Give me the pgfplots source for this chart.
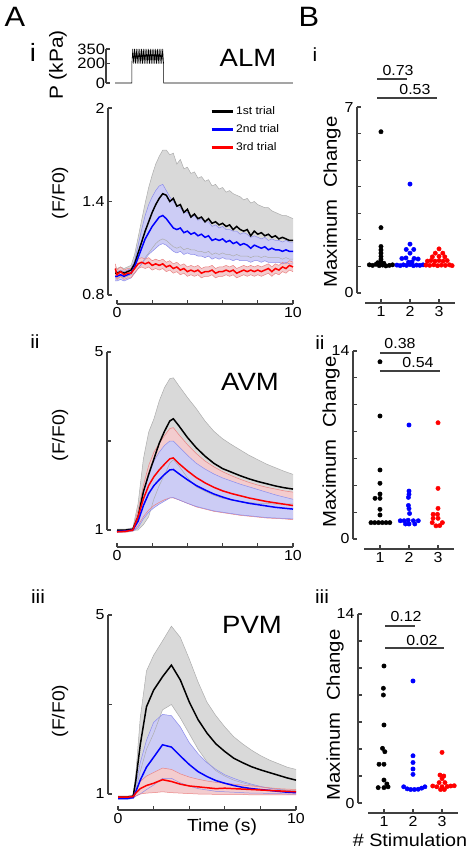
\documentclass[border=0pt]{standalone}
\usepackage{fontspec}
\setmainfont{Liberation Sans}[FakeStretch=1.1]
\usepackage{pgfplots}
\usepackage{pgfplotstable}
\pgfplotsset{compat=1.18}
\usepgfplotslibrary{fillbetween}
\definecolor{axg}{RGB}{64,64,64}
\definecolor{gfill}{RGB}{217,217,217}
\definecolor{ufill}{RGB}{204,204,245}
\definecolor{rfill}{RGB}{243,204,206}
\newcommand{\fs}[1]{\fontsize{#1pt}{#1pt}\selectfont}
\tikzset{sig/.style={axg, line width=1.6pt}}

\pgfplotstableread{
t bm bu bl um uu ul rm ru rl
-0.1 0.94 0.97 0.91 0.92 0.95 0.89 0.97 1.00 0.94
0.0 0.94 0.97 0.91 0.92 0.95 0.89 0.93 0.96 0.90
0.2 0.95 0.98 0.92 0.93 0.96 0.90 0.95 0.98 0.92
0.4 0.94 0.97 0.91 0.92 0.95 0.89 0.93 0.96 0.90
0.6 0.95 0.98 0.92 0.93 0.96 0.90 0.94 0.97 0.91
0.8 0.96 0.99 0.93 0.94 0.97 0.91 0.94 0.97 0.91
1.0 1.00 1.06 0.94 0.98 1.02 0.94 0.97 1.00 0.94
1.2 1.07 1.17 0.97 1.04 1.12 0.97 1.00 1.03 0.97
1.4 1.14 1.28 1.00 1.10 1.22 1.00 1.01 1.04 0.98
1.6 1.21 1.39 1.04 1.16 1.31 1.03 1.00 1.03 0.97
1.8 1.27 1.49 1.07 1.20 1.38 1.06 1.01 1.04 0.98
2.0 1.33 1.57 1.10 1.24 1.43 1.08 0.99 1.02 0.96
2.2 1.38 1.64 1.13 1.27 1.47 1.10 1.00 1.03 0.97
2.4 1.42 1.69 1.15 1.30 1.50 1.12 0.99 1.02 0.96
2.6 1.45 1.73 1.16 1.31 1.51 1.13 1.00 1.03 0.97
2.8 1.44 1.73 1.15 1.29 1.47 1.12 0.98 1.01 0.95
3.0 1.40 1.70 1.13 1.26 1.43 1.10 0.99 1.02 0.96
3.2 1.42 1.71 1.11 1.23 1.40 1.08 0.97 1.00 0.94
3.4 1.37 1.64 1.10 1.22 1.37 1.07 0.98 1.01 0.95
3.6 1.38 1.67 1.11 1.23 1.36 1.08 0.96 0.99 0.93
3.8 1.33 1.61 1.09 1.20 1.33 1.06 0.97 1.00 0.94
4.0 1.35 1.62 1.10 1.21 1.33 1.07 0.95 0.98 0.92
4.2 1.30 1.58 1.09 1.19 1.30 1.06 0.96 0.99 0.93
4.4 1.32 1.59 1.09 1.20 1.31 1.06 0.95 0.98 0.92
4.6 1.29 1.55 1.08 1.18 1.28 1.05 0.96 0.99 0.93
4.8 1.30 1.56 1.08 1.19 1.29 1.05 0.94 0.97 0.91
5.0 1.27 1.53 1.07 1.17 1.27 1.04 0.95 0.98 0.92
5.2 1.29 1.54 1.08 1.18 1.27 1.05 0.95 0.98 0.92
5.4 1.26 1.50 1.06 1.15 1.24 1.03 0.96 0.99 0.93
5.6 1.27 1.51 1.07 1.16 1.25 1.04 0.94 0.97 0.91
5.8 1.25 1.48 1.06 1.15 1.23 1.03 0.95 0.98 0.92
6.0 1.26 1.49 1.07 1.16 1.24 1.04 0.95 0.98 0.92
6.2 1.24 1.46 1.06 1.14 1.22 1.03 0.96 0.99 0.93
6.4 1.25 1.47 1.06 1.15 1.22 1.03 0.95 0.98 0.92
6.6 1.22 1.45 1.05 1.13 1.21 1.02 0.96 0.99 0.93
6.8 1.24 1.44 1.06 1.14 1.21 1.03 0.94 0.97 0.91
7.0 1.22 1.43 1.05 1.12 1.19 1.02 0.95 0.98 0.92
7.2 1.21 1.41 1.05 1.13 1.20 1.02 0.96 0.99 0.93
7.4 1.22 1.42 1.05 1.12 1.19 1.02 0.95 0.98 0.92
7.6 1.18 1.39 1.04 1.10 1.17 1.01 0.96 0.99 0.93
7.8 1.21 1.40 1.05 1.12 1.18 1.02 0.95 0.98 0.92
8.0 1.19 1.38 1.05 1.11 1.17 1.02 0.96 0.99 0.93
8.2 1.20 1.37 1.04 1.10 1.16 1.01 0.95 0.98 0.92
8.4 1.18 1.36 1.05 1.11 1.17 1.02 0.96 0.99 0.93
8.6 1.19 1.36 1.04 1.09 1.15 1.01 0.97 1.00 0.94
8.8 1.17 1.34 1.04 1.10 1.16 1.01 0.95 0.98 0.92
9.0 1.18 1.33 1.04 1.09 1.15 1.01 0.97 1.00 0.94
9.2 1.16 1.32 1.04 1.09 1.15 1.01 0.96 0.99 0.93
9.4 1.17 1.31 1.03 1.08 1.14 1.00 0.98 1.01 0.95
9.6 1.16 1.31 1.04 1.09 1.15 1.01 0.97 1.00 0.94
9.8 1.15 1.30 1.03 1.08 1.14 1.00 0.99 1.02 0.96
10.0 1.15 1.29 1.03 1.08 1.14 1.00 0.98 1.01 0.95
}\alm

\pgfplotstableread{
t bm bu bl rm ru rl um uu ul
0 1.00 1.02 0.98 0.96 0.98 0.94 0.97 0.99 0.95
0.5 1.00 1.02 0.98 0.97 0.99 0.95 0.98 1.00 0.96
0.9 1.02 1.05 0.99 1.00 1.02 0.97 1.00 1.02 0.98
1.2 1.30 1.60 1.00 1.30 1.45 1.10 1.20 1.35 1.05
1.5 1.86 2.60 1.12 1.70 2.00 1.30 1.55 1.85 1.25
1.8 2.25 3.20 1.30 2.00 2.45 1.45 1.82 2.25 1.40
2.1 2.60 3.50 1.70 2.20 2.75 1.55 2.00 2.55 1.50
2.4 2.95 3.90 2.00 2.35 2.95 1.62 2.13 2.75 1.58
2.7 3.22 4.20 2.24 2.48 3.12 1.68 2.25 2.90 1.65
3.0 3.45 4.40 2.50 2.60 3.28 1.72 2.35 3.00 1.72
3.2 3.50 4.42 2.58 2.62 3.30 1.72 2.36 3.00 1.73
3.5 3.35 4.25 2.45 2.50 3.15 1.68 2.27 2.88 1.68
4.0 3.08 3.98 2.18 2.33 2.92 1.60 2.13 2.68 1.60
4.5 2.85 3.73 1.97 2.18 2.72 1.52 2.00 2.50 1.53
5.0 2.66 3.45 1.87 2.06 2.55 1.47 1.90 2.37 1.48
5.5 2.50 3.22 1.78 1.96 2.42 1.42 1.81 2.26 1.43
6.0 2.38 3.05 1.71 1.88 2.31 1.39 1.74 2.17 1.40
6.5 2.30 2.92 1.68 1.82 2.22 1.36 1.68 2.10 1.37
7.0 2.22 2.80 1.64 1.77 2.14 1.33 1.64 2.03 1.34
7.5 2.15 2.68 1.62 1.72 2.07 1.31 1.60 1.97 1.32
8.0 2.09 2.58 1.60 1.68 2.01 1.29 1.57 1.91 1.30
8.5 2.04 2.48 1.60 1.64 1.96 1.27 1.54 1.85 1.28
9.0 1.99 2.40 1.58 1.61 1.92 1.26 1.51 1.79 1.27
9.5 1.95 2.32 1.58 1.58 1.88 1.25 1.49 1.74 1.26
10 1.92 2.25 1.59 1.55 1.85 1.23 1.47 1.69 1.25
}\avm

\pgfplotstableread{
t bm bu bl um uu ul rm ru rl
0 0.93 0.95 0.91 0.90 0.92 0.88 0.93 0.95 0.91
0.5 0.93 0.95 0.91 0.90 0.92 0.88 0.93 0.95 0.91
0.85 0.95 0.98 0.93 0.92 0.95 0.90 0.94 0.96 0.92
1.0 1.30 1.45 1.10 1.05 1.20 0.95 1.02 1.10 0.96
1.25 2.10 2.70 1.50 1.31 1.70 1.00 1.12 1.28 1.00
1.6 2.95 3.75 2.00 1.60 2.20 1.10 1.19 1.40 1.02
2.0 3.32 4.10 2.35 1.82 2.60 1.20 1.24 1.48 1.03
2.5 3.62 4.42 2.88 2.10 2.78 1.35 1.32 1.58 1.05
3.0 3.88 4.75 3.00 2.05 2.75 1.35 1.28 1.55 1.03
3.5 3.55 4.50 2.70 1.85 2.50 1.25 1.22 1.45 1.02
4.0 3.06 4.02 2.35 1.66 2.15 1.18 1.18 1.38 1.01
4.5 2.66 3.50 2.00 1.50 1.90 1.12 1.16 1.33 1.00
5.0 2.36 3.05 1.72 1.39 1.70 1.09 1.14 1.29 1.00
5.5 2.12 2.75 1.52 1.30 1.55 1.06 1.12 1.26 0.99
6.0 1.95 2.50 1.40 1.24 1.43 1.05 1.13 1.24 0.99
6.5 1.80 2.28 1.31 1.19 1.35 1.04 1.12 1.22 0.99
7.0 1.70 2.12 1.25 1.15 1.28 1.03 1.11 1.20 0.99
7.5 1.61 1.98 1.20 1.12 1.22 1.02 1.10 1.18 0.98
8.0 1.54 1.86 1.16 1.10 1.17 1.02 1.09 1.16 0.98
8.5 1.48 1.76 1.13 1.08 1.13 1.01 1.08 1.14 0.98
9.0 1.42 1.68 1.11 1.06 1.10 1.01 1.07 1.12 0.98
9.5 1.36 1.60 1.09 1.04 1.08 1.00 1.06 1.11 0.98
10 1.31 1.55 1.08 1.03 1.06 1.00 1.05 1.10 0.98
}\pvm

\pgfplotsset{
  myax/.style={
    scale only axis, clip=false, anchor=south west,
    axis x line*=bottom, axis y line*=left,
    axis line style={-, line width=1.6pt, axg},
    tick style={line width=1.2pt, axg},
    major tick length=4pt,
    tick align=inside,
    /pgf/number format/assume math mode=true,
    tick label style={font=\fs{14.5}, text=black},
  },
  tax/.style={myax, xmin=0, xmax=10, xtick={0,2,4,6,8,10}, xticklabels={0,,,,,10}},
  bax/.style={myax, xmin=0.45, xmax=3.55, xtick={1,2,3}, ymin=0, width=90pt},
  gedge/.style={draw=black!32, line width=0.5pt, forget plot},
  uedge/.style={draw={rgb,255:red,140;green,140;blue,235}, line width=0.5pt, forget plot},
  redge/.style={draw={rgb,255:red,235;green,130;blue,130}, line width=0.5pt, forget plot},
  mline/.style={line width=1.5pt},
  dots/.style={only marks, mark=*, mark size=2.2pt},
}

\begin{document}
\begin{tikzpicture}

% ---------- stimulus ----------
\begin{axis}[myax, at={(115.2pt,-83pt)}, width=177.6pt, height=34pt,
  xmin=-0.1, xmax=10, ymin=0, ymax=350, axis x line=none,
  axis y line shift=9pt, ytick={0,200,350}, tick label style={font=\fs{15}},
  yticklabel style={inner sep=1pt}]
\addplot[black, line width=0.6pt] coordinates {(-0.1,0) (0.85,0) (0.85,200)
 (0.9,350) (0.95,200) (1.0,350) (1.05,200) (1.1,350) (1.15,200) (1.2,350) (1.25,200)
 (1.3,350) (1.35,200) (1.4,350) (1.45,200) (1.5,350) (1.55,200) (1.6,350) (1.65,200)
 (1.7,350) (1.75,200) (1.8,350) (1.85,200) (1.9,350) (1.95,200) (2.0,350) (2.05,200)
 (2.1,350) (2.15,200) (2.2,350) (2.25,200) (2.3,350) (2.35,200) (2.4,350) (2.45,200)
 (2.5,350) (2.55,200) (2.6,350) (2.65,200) (2.65,0) (10,0)};
\end{axis}

% ---------- A i : ALM ----------
\begin{axis}[tax, at={(117pt,-295pt)}, width=176pt, height=187pt,
  ymin=0.8, ymax=2, ytick={0.8,1.4,2}, yticklabels={0.8,1.4,2},
  axis x line shift=9pt, axis y line shift=9pt,
  legend style={at={(rel axis cs:0.528,1.02)}, anchor=north west, draw=none, fill=none,
    font=\fs{11}, row sep=4.5pt, inner sep=0pt, cells={anchor=west}},
  legend image code/.code={\draw[#1, line width=3pt] (0pt,0pt) -- (21pt,0pt);}]
\addplot[gedge, name path=gu] table[x=t,y=bu]{\alm};
\addplot[gedge, name path=gl] table[x=t,y=bl]{\alm};
\addplot[fill=gfill, forget plot] fill between[of=gu and gl];
\addplot[uedge, name path=uu] table[x=t,y=uu]{\alm};
\addplot[uedge, name path=ul] table[x=t,y=ul]{\alm};
\addplot[fill=ufill, forget plot] fill between[of=uu and ul];
\addplot[redge, name path=ru] table[x=t,y=ru]{\alm};
\addplot[redge, name path=rl] table[x=t,y=rl]{\alm};
\addplot[fill=rfill, forget plot] fill between[of=ru and rl];
\addplot[mline, black] table[x=t,y=bm]{\alm};
\addlegendentry{1st trial}
\addplot[mline, blue] table[x=t,y=um]{\alm};
\addlegendentry{2nd trial}
\addplot[mline, red] table[x=t,y=rm]{\alm};
\addlegendentry{3rd trial}
\end{axis}

% ---------- A ii : AVM ----------
\begin{axis}[tax, at={(117pt,-530pt)}, width=176pt, height=178pt,
  ymin=1, ymax=5, ytick={1,3,5}, yticklabels={1,,5},
  axis x line shift=17pt, axis y line shift=10pt]
\addplot[gedge, name path=gu] table[x=t,y=bu]{\avm};
\addplot[gedge, name path=gl] table[x=t,y=bl]{\avm};
\addplot[fill=gfill, forget plot] fill between[of=gu and gl];
\addplot[redge, name path=ru] table[x=t,y=ru]{\avm};
\addplot[redge, name path=rl] table[x=t,y=rl]{\avm};
\addplot[fill=rfill, forget plot] fill between[of=ru and rl];
\addplot[uedge, name path=uu] table[x=t,y=uu]{\avm};
\addplot[uedge, name path=ul] table[x=t,y=ul]{\avm};
\addplot[fill=ufill, forget plot] fill between[of=uu and ul];
\addplot[mline, black] table[x=t,y=bm]{\avm};
\addplot[mline, blue] table[x=t,y=um]{\avm};
\addplot[mline, red] table[x=t,y=rm]{\avm};
\end{axis}

% ---------- A iii : PVM ----------
\begin{axis}[tax, at={(118pt,-794pt)}, width=178pt, height=179pt,
  ymin=1, ymax=5, ytick={1,3,5}, yticklabels={1,,5},
  axis x line shift=16pt, axis y line shift=10pt]
\addplot[gedge, name path=gu] table[x=t,y=bu]{\pvm};
\addplot[gedge, name path=gl] table[x=t,y=bl]{\pvm};
\addplot[fill=gfill, forget plot] fill between[of=gu and gl];
\addplot[uedge, name path=uu] table[x=t,y=uu]{\pvm};
\addplot[uedge, name path=ul] table[x=t,y=ul]{\pvm};
\addplot[fill=ufill, forget plot] fill between[of=uu and ul];
\addplot[redge, name path=ru] table[x=t,y=ru]{\pvm};
\addplot[redge, name path=rl] table[x=t,y=rl]{\pvm};
\addplot[fill=rfill, forget plot] fill between[of=ru and rl];
\addplot[mline, black] table[x=t,y=bm]{\pvm};
\addplot[mline, blue] table[x=t,y=um]{\pvm};
\addplot[mline, red] table[x=t,y=rm]{\pvm};
\end{axis}

% ---------- B i ----------
\begin{axis}[bax, at={(365pt,-293pt)}, height=186pt, ymax=7,
  ytick={0,1,...,7}, yticklabels={0,,,,,,,7},
  axis x line shift=10pt, axis y line shift=8pt]
\addplot[dots, black] coordinates {(1,6.07) (1,2.46) (1,1.75) (1,1.62) (1,1.5) (1,1.38) (1,1.27) (1,1.17)
 (0.6,1.06) (0.71,1.04) (0.83,1.08) (0.94,1.03) (1.06,1.05) (1.17,1.02) (1.29,1.04) (1.4,1.06) (0.89,1.14) (1.1,1.12)};
\addplot[dots, blue] coordinates {(2,4.1) (2,1.84) (1.87,1.64) (2.13,1.64) (2,1.5) (1.72,1.3) (1.86,1.32) (2.14,1.3) (2.28,1.28)
 (1.55,1.05) (1.66,1.03) (1.77,1.06) (1.88,1.04) (2,1.07) (2.12,1.03) (2.23,1.05) (2.34,1.04) (2.45,1.06) (1.95,1.16) (2.07,1.17)};
\addplot[dots, red] coordinates {(3,1.66) (2.87,1.5) (3.13,1.5) (2.77,1.36) (3,1.38) (3.2,1.36) (2.6,1.2) (2.72,1.22) (2.86,1.2)
 (3,1.22) (3.14,1.2) (3.28,1.22) (2.55,1.05) (2.68,1.04) (2.82,1.06) (2.95,1.03) (3.08,1.05) (3.22,1.04) (3.36,1.06) (3.45,1.03)};
\draw[sig] (axis cs:0.864,8.05) -- (axis cs:1.898,8.05);
\draw[sig] (axis cs:0.864,7.33) -- (axis cs:2.93,7.33);
\node[font=\fs{14.5}] at (axis cs:1.59,8.38) {0.73};
\node[font=\fs{14.5}] at (axis cs:2.17,7.67) {0.53};
\end{axis}

% ---------- B ii ----------
\begin{axis}[bax, at={(364pt,-539pt)}, height=188pt, ymax=14,
  ytick={0,2,...,14}, yticklabels={0,,,,,,,14},
  axis x line shift=10pt, axis y line shift=11pt]
\addplot[dots, black] coordinates {(1,13.2) (1,9.16) (1,5.14) (1,4.15) (1,3.35) (0.83,3.03) (1,3.03) (1,2.21) (1,1.79)
 (0.69,1.22) (0.82,1.22) (0.95,1.22) (1.08,1.22) (1.21,1.22) (1.34,1.22)};
\addplot[dots, blue] coordinates {(2,8.49) (2,3.57) (2,3.33) (1.98,3.1) (1.98,2.5) (2,2.26) (2.02,1.9) (1.7,1.36) (1.83,1.36)
 (2.15,1.36) (2.32,1.36) (1.88,1.12) (2,1.12) (2.2,1.12) (1.97,1.4)};
\addplot[dots, red] coordinates {(3,8.66) (3,3.77) (3,2.28) (2.83,1.84) (2.98,1.84) (2.83,1.54) (3,1.54) (2.8,1.22) (3.15,1.22)
 (2.93,0.98) (3.06,1.0)};
\draw[sig] (axis cs:1.0,13.85) -- (axis cs:2.07,13.85);
\draw[sig] (axis cs:1.0,12.51) -- (axis cs:3.07,12.51);
\node[font=\fs{14.5}] at (axis cs:1.69,14.55) {0.38};
\node[font=\fs{14.5}] at (axis cs:2.31,13.18) {0.54};
\end{axis}

% ---------- B iii ----------
\begin{axis}[bax, at={(368pt,-803pt)}, height=189pt, ymax=14,
  ytick={0,2,...,14}, yticklabels={0,,,,,,,14},
  axis x line shift=10pt, axis y line shift=10pt]
\addplot[dots, black] coordinates {(1,10.15) (0.98,8.5) (0.98,8.0) (1,5.78) (0.95,4.05) (1.03,3.8) (0.83,2.87) (1,2.87)
 (1,1.7) (1.1,1.41) (0.8,1.14) (1,1.14) (1.14,1.2)};
\addplot[dots, blue] coordinates {(2,9.04) (2,3.5) (2,3.0) (2,2.52) (2,2.12) (1.68,1.2) (1.8,1.05) (1.92,1.0) (2.05,1.0)
 (2.18,1.02) (2.3,1.1) (2.41,1.2)};
\addplot[dots, red] coordinates {(3,3.75) (2.93,2.07) (3.06,2.0) (3.0,1.8) (2.9,1.51) (3.1,1.51) (2.68,1.26) (2.82,1.2)
 (3.18,1.22) (3.3,1.26) (3.42,1.28) (2.95,1.0) (3.08,1.0) (3.0,1.2)};
\draw[sig] (axis cs:1.04,13.11) -- (axis cs:2.07,13.11);
\draw[sig] (axis cs:1.04,11.48) -- (axis cs:3.07,11.48);
\node[font=\fs{14.5}] at (axis cs:1.76,13.85) {0.12};
\node[font=\fs{14.5}] at (axis cs:2.31,12.07) {0.02};
\end{axis}

% ---------- text ----------
\node[font=\fs{28}] at (15pt,-17pt) {A};
\node[font=\fs{28}] at (309pt,-17pt) {B};
\node[font=\fs{25}] at (33pt,-52pt) {i};
\node[font=\fs{19}] at (35pt,-342pt) {ii};
\node[font=\fs{19}] at (38pt,-597pt) {iii};
\node[font=\fs{19}] at (315pt,-55pt) {i};
\node[font=\fs{19}] at (320pt,-343pt) {ii};
\node[font=\fs{19}] at (322pt,-597pt) {iii};
\node[font=\fs{25}] at (248pt,-58pt) {ALM};
\node[font=\fs{25}] at (250pt,-382pt) {AVM};
\node[font=\fs{25}] at (252pt,-625pt) {PVM};
\node[font=\fs{19}, rotate=90] at (58pt,-65pt) {P (kPa)};
\node[font=\fs{17.5}, rotate=90] at (60pt,-193pt) {(F/F0)};
\node[font=\fs{17.5}, rotate=90] at (60pt,-435pt) {(F/F0)};
\node[font=\fs{17.5}, rotate=90] at (60pt,-711pt) {(F/F0)};
\node[font=\fs{18.5}, rotate=90] at (332pt,-202pt) {Maximum\ \ Change};
\node[font=\fs{18.5}, rotate=90] at (331pt,-442pt) {Maximum\ \ Change};
\node[font=\fs{18.5}, rotate=90] at (335pt,-715pt) {Maximum\ \ Change};
\node[font=\fs{17.5}] at (222pt,-827pt) {Time (s)};
\node[font=\fs{18}] at (410pt,-840pt) {\# Stimulation};

\pgfresetboundingbox
\path[use as bounding box] (0pt,0pt) rectangle (476pt,-855pt);
\end{tikzpicture}
\end{document}
